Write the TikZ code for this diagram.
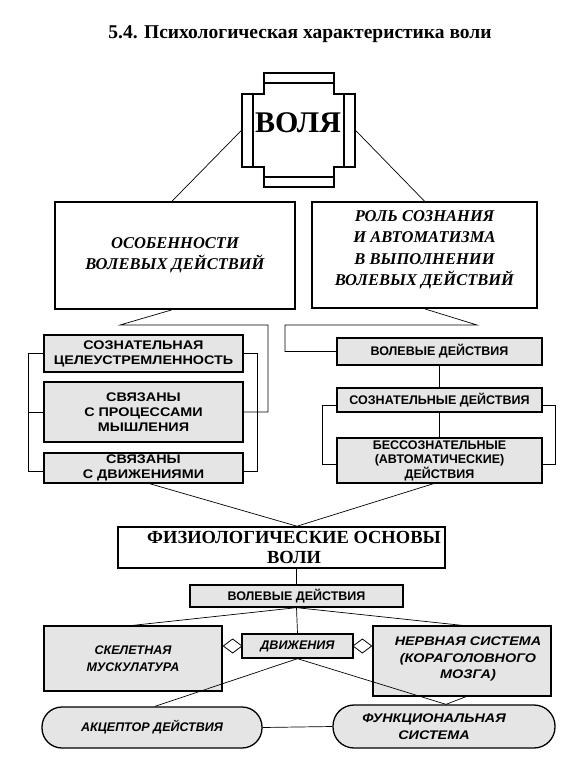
\documentclass[tikz,border=0pt]{standalone}
\usepackage{fontspec}
\setmainfont{Liberation Serif}
\newfontfamily\ars{Liberation Sans}
\newfontfamily\arsw[FakeStretch=1.15]{Liberation Sans}
\usetikzlibrary{arrows.meta,calc}
\begin{document}
\begin{tikzpicture}[x=1pt,y=-1pt,
  conn/.style={line width=0.7pt},
  bigbox/.style={draw, line width=1.6pt, inner sep=0pt, align=center,
    font=\bfseries\itshape\fontsize{16.5}{21.5}\selectfont},
  gbox/.style={draw, line width=1.3pt, fill=black!10, inner sep=0pt, align=center,
    font=\ars\bfseries\fontsize{12.5}{14.5}\selectfont},
  gboxl/.style={gbox, font=\arsw\bfseries\fontsize{12.5}{15}\selectfont},
  gboxi/.style={gbox, font=\ars\bfseries\itshape\fontsize{12.5}{16.5}\selectfont},
  gboxiw/.style={gbox, font=\arsw\bfseries\itshape\fontsize{12.5}{16.5}\selectfont},
  dia/.style={line width=0.8pt, -{Diamond[fill=white, length=20pt, width=15pt]}}
]
\useasboundingbox (0,0) rectangle (577,767);

% title
\node[font=\bfseries\fontsize{19.5}{22}\selectfont] (title) at (300,34) {5.4. Психологическая характеристика воли};

% ВОЛЯ cross
\draw[line width=1.2pt] (264,73) -- (334,73) -- (334,94) -- (355,94) -- (355,167) -- (334,167) -- (334,187) -- (264,187) -- (264,167) -- (242,167) -- (242,94) -- (264,94) -- cycle;
\draw[line width=1.2pt] (264,83) -- (334,83) (264,177) -- (334,177) (253,94) -- (253,167) (344,94) -- (344,167);
\node[inner sep=0pt, minimum width=113pt, minimum height=114pt] (volya) at (298.5,130) {};
\node[font=\bfseries\fontsize{30}{32}\selectfont, inner sep=0pt] (vt) at (298,123) {ВОЛЯ};

% top boxes
\node[bigbox, minimum width=240pt, minimum height=107pt] (osob) at (175,255.5) {ОСОБЕННОСТИ\\ВОЛЕВЫХ ДЕЙСТВИЙ};
\node[bigbox, minimum width=225pt, minimum height=106pt] (rol) at (424.5,255) {};
\node[font=\bfseries\itshape\fontsize{16.5}{21.5}\selectfont, align=center, inner sep=0pt] (rolt) at (424.5,250) {РОЛЬ СОЗНАНИЯ\\И АВТОМАТИЗМА\\В ВЫПОЛНЕНИИ\\ВОЛЕВЫХ ДЕЙСТВИЙ};
\draw[conn] (volya.west) -- ([xshift=-3pt]osob.north);
\draw[conn] (volya.east) -- (rol.north);

% left column
\node[gboxl, minimum width=199pt, minimum height=37pt] (s1) at (143.5,353.5) {СОЗНАТЕЛЬНАЯ\\ЦЕЛЕУСТРЕМЛЕННОСТЬ};
\node[gboxl, minimum width=199pt, minimum height=60pt] (s2) at (143.5,412) {СВЯЗАНЫ\\С ПРОЦЕССАМИ\\МЫШЛЕНИЯ};
\node[gboxl, minimum width=199pt, minimum height=30pt] (s3) at (143.5,468) {СВЯЗАНЫ\\С ДВИЖЕНИЯМИ};
\coordinate (lx) at (28,0);
\draw[conn] (s1.west) -- (s1.west -| lx) |- ([yshift=-3pt]s3.west);
\draw[conn] (s2.west) -- (s2.west -| lx);
\draw[conn] (s1.east) -- ++(14,0) |- ([yshift=-3pt]s3.east);
\coordinate (c1) at (120,325);
\coordinate (c2) at (268,325);
\draw[conn] ([xshift=-3pt]osob.south) -- (c1) -- (c2) |- (s2.east);

% right column
\node[gbox, minimum width=205pt, minimum height=27pt] (r1) at (439.5,351.5) {ВОЛЕВЫЕ ДЕЙСТВИЯ};
\node[gbox, minimum width=205pt, minimum height=24pt] (r2) at (439.5,400) {СОЗНАТЕЛЬНЫЕ ДЕЙСТВИЯ};
\node[gbox, minimum width=205pt, minimum height=45pt] (r3) at (439.5,460.5) {БЕССОЗНАТЕЛЬНЫЕ\\(АВТОМАТИЧЕСКИЕ)\\ДЕЙСТВИЯ};
\draw[conn] (r1.south) -- (r2.north);
\draw[conn] (r2.south) -- (r3.north);
\coordinate (rl) at (322,0);
\coordinate (rr) at (555,0);
\draw[conn] ([yshift=-5pt]r2.west) -- ([yshift=-5pt]r2.west -| rl) |- ([yshift=-4pt]r3.west);
\draw[conn] ([yshift=-5pt]r2.east) -- ([yshift=-5pt]r2.east -| rr) |- ([yshift=-4pt]r3.east);
\coordinate (c3) at (477,325);
\coordinate (c4) at (285,325);
\draw[conn] (rol.south) -- (c3) -- (c4) |- (r1.west);

% physiological basis
\node[draw, line width=1.6pt, inner sep=0pt, minimum width=327pt, minimum height=41pt] (fiz) at (281.5,547.5) {};
\node[font=\bfseries\fontsize{18.5}{20}\selectfont, align=center, inner sep=0pt] (fizt) at (294,547) {ФИЗИОЛОГИЧЕСКИЕ ОСНОВЫ\\ВОЛИ};
\coordinate (fj) at ([xshift=15.5pt]fiz.north);
\draw[conn] ([xshift=6pt]s3.south) -- (fj);
\draw[conn] ([xshift=-6pt]r3.south) -- (fj);

\node[gbox, minimum width=213pt, minimum height=22pt] (wd) at (296.5,596) {ВОЛЕВЫЕ ДЕЙСТВИЯ};
\draw[conn] (fiz.south -| wd.north) -- (wd.north);

\node[gboxi, minimum width=178pt, minimum height=65pt] (sk) at (133,658.5) {СКЕЛЕТНАЯ\\МУСКУЛАТУРА};
\node[gboxi, minimum width=111pt, minimum height=24pt] (dv) at (297.5,646) {ДВИЖЕНИЯ};
\node[gboxi, minimum width=178pt, minimum height=70pt] (nv) at (462,661) {};
\node[font=\arsw\bfseries\itshape\fontsize{12.5}{16.5}\selectfont, align=center, inner sep=0pt] (nvt) at (468,659) {НЕРВНАЯ СИСТЕМА\\(КОРАГОЛОВНОГО\\МОЗГА)};
\node[gboxi, rounded corners=20pt, minimum width=220pt, minimum height=41pt] (ak) at (152,727.5) {АКЦЕПТОР ДЕЙСТВИЯ};
\node[gboxi, rounded corners=21pt, minimum width=222pt, minimum height=43pt] (fn) at (444,726.5) {};
\node[font=\arsw\bfseries\itshape\fontsize{12.5}{16.5}\selectfont, align=center, inner sep=0pt] (fnt) at (434,726.5) {ФУНКЦИОНАЛЬНАЯ\\СИСТЕМА};

\draw[conn] (wd.south) -- (sk.north);
\draw[conn] (wd.south) -- (nv.north);
\draw[conn] (wd.south) -- (dv.north);
\draw[conn] (dv.south) -- ([xshift=3pt]ak.north);
\draw[conn] (dv.south) -- ([xshift=2pt]fn.north);
\draw[conn] ([xshift=4pt]nv.south) -- ([xshift=2pt]fn.north);
\draw[conn] (ak.east) -- (fn.west);
\draw[dia] (dv.west) -- (sk.east |- dv.west);
\draw[dia] (dv.east) -- (nv.west |- dv.east);
\end{tikzpicture}
\end{document}
